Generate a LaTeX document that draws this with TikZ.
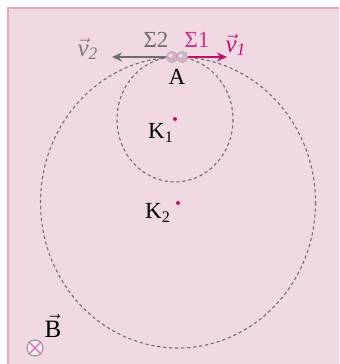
\documentclass[tikz,border=0pt]{standalone}
\usepackage{fontspec}
\setmainfont{Liberation Serif}
\usetikzlibrary{arrows.meta, positioning}
\definecolor{cbg}{HTML}{F0D9E3}
\definecolor{cframe}{HTML}{EFA3C3}
\definecolor{cmag}{HTML}{C2106F}
\definecolor{cgrey}{HTML}{6E6E6E}
\definecolor{cball}{HTML}{D4B2C6}
\newcommand{\vecit}[2]{\ensuremath{\vec{\mbox{\itshape #1}}}\textsubscript{\itshape #2}}
\tikzset{
  every picture/.style={font=\fontsize{11.5}{13}\selectfont},
  orbit/.style={draw=cgrey, dash pattern=on 1.6pt off 1.4pt, line width=0.55pt},
  arrow/.style={-{Stealth[length=5pt, width=4.5pt]}, line width=0.9pt},
  centre/.style={circle, fill=cmag, inner sep=0pt, minimum size=2pt},
  ball/.style={circle, fill=cball, draw=cball!75!cgrey, line width=0.25pt, inner sep=0pt, minimum size=5.6pt},
  vlab/.style={font=\fontsize{12.5}{14}\selectfont, inner sep=1pt},
}

\begin{document}
\begin{tikzpicture}[x=0.5pt, y=-0.5pt]
  \useasboundingbox (0,0) rectangle (339,364);
  \fill[cbg] (8,8) rectangle (339,364);
  \draw[cframe, line width=0.6pt] (8,364) -- (8,8) -- (339,8);
  % orbits
  \draw[orbit] (175,119.5) ellipse [x radius=58, y radius=62.5];
  \draw[orbit] (178,202.5) ellipse [x radius=137.5, y radius=145.5];
  \node[centre] (k1) at (175,119) {};
  \node[centre] (k2) at (178,203) {};
  \node (k1lab) at (161,133) {K\textsubscript{1}};
  \node (k2lab) at (158,213) {K\textsubscript{2}};
  % particles
  \node[ball] (p2) at (172,57) {};
  \node[ball] (p1) at (182,57) {};
  \fill[white, opacity=0.8] (p2.center) ++(-1.3,-1.3) circle [radius=1.8];
  \fill[white, opacity=0.8] (p1.center) ++(-1.3,-1.3) circle [radius=1.8];
  \coordinate (v2tip) at (112,57);
  \coordinate (v1tip) at (227,57);
  \draw[arrow, cgrey] (p2) -- (v2tip);
  \draw[arrow, cmag] (p1) -- (v1tip);
  \node (alab) at (177,77) {A};
  \node[text=cgrey] (s2lab) at (156,40) {Σ2};
  \node[text=cmag!85] (s1lab) at (197,40) {Σ1};
  \node[vlab, text=cgrey!90] (v2lab) at (88,49) {\vecit{v}{2}};
  \node[vlab, text=cmag] (v1lab) at (236,45) {\vecit{v}{1}};
  % field
  \node[circle, draw=cgrey!60, line width=0.7pt, fill=white!50!cbg, minimum size=8pt, inner sep=0pt] (bsym) at (35,348) {};
  \draw[cmag!60, line width=0.6pt] (bsym.north west) -- (bsym.south east) (bsym.north east) -- (bsym.south west);
  \node[font=\fontsize{12.5}{14}\selectfont, inner sep=1pt] (blab) at (53,326) {$\vec{\mathrm{B}}$};
\end{tikzpicture}
\end{document}
